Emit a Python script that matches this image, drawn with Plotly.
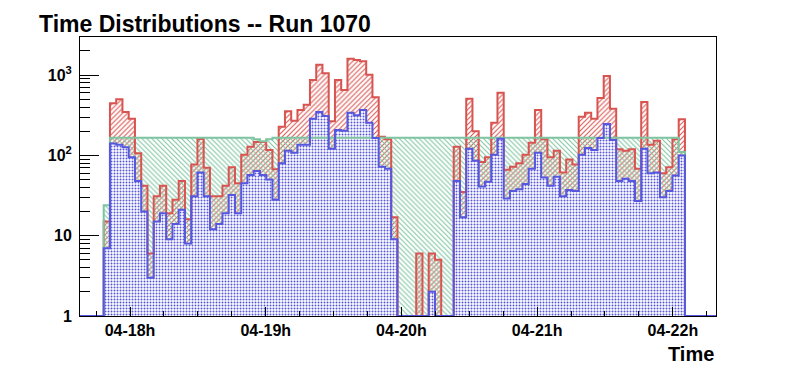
import numpy as np
import pandas as pd
import plotly.graph_objects as go

# ---- data (counts per time bin) ----
run_day = "2000-01-04"
first_edge = "2000-01-04 17:48:22"
bin_seconds = 165.8
axis_start = "2000-01-04 17:37:53"
axis_end = "2000-01-04 22:19:05"

red_counts = [15, 446, 499, 347, 286, 106, 42, 6, 31, 42, 19, 28, 48, 16, 77, 160,
              70, 31, 31, 42, 71, 45, 102, 128, 147, 147, 117, 67, 228, 354, 270, 367,
              428, 869, 1349, 1052, 266, 869, 652, 1600, 1541, 1486, 1012, 529, 171, 159,
              17, 0, 0, 0, 6, 0, 6, 5, 0, 0, 128, 35, 508, 200, 83, 95, 255, 604,
              66, 72, 80, 102, 144, 367, 159, 95, 114, 61, 89, 77, 303, 340, 286, 518,
              975, 382, 119, 114, 119, 68, 462, 136, 152, 60, 71, 159, 281]

green_counts = [24] + [166] * 23 + [159, 150, 159] + [166] * 65 + [110]

blue_counts = [7, 141, 136, 126, 95, 48, 20, 3, 15, 19, 9, 14, 21, 8, 31, 61,
               31, 12, 14, 19, 32, 19, 45, 57, 64, 57, 50, 28, 80, 114, 108, 136,
               136, 286, 347, 309, 121, 207, 203, 340, 316, 367, 255, 165, 72, 68,
               9, 0, 0, 0, 0, 0, 2, 0, 0, 0, 48, 17, 121, 86, 41, 47, 102, 161,
               29, 36, 38, 44, 68, 108, 53, 42, 54, 31, 37, 36, 102, 124, 117, 165,
               246, 155, 48, 51, 48, 27, 121, 60, 61, 30, 36, 56, 100]

tick_labels_y = ["1", "10", "10<sup>2</sup>", "10<sup>3</sup>"]
tick_vals_y = [1, 10, 100, 1000]

RED = "rgb(216,84,80)"
GREEN = "rgb(126,196,160)"
BLUE = "rgb(86,86,222)"

nb = len(red_counts)
t0 = pd.Timestamp(first_edge)
edges = [t0 + pd.Timedelta(seconds=bin_seconds * i) for i in range(nb + 1)]
centers = [t0 + pd.Timedelta(seconds=bin_seconds * (i + 0.5)) for i in range(nb)]
width_ms = bin_seconds * 1000.0
xl = pd.Timestamp(axis_start)
xr = pd.Timestamp(axis_end)

fig = go.Figure()


def add_hist(counts, color, shape, size, solidity, bg):
    vals = [c if c > 0 else None for c in counts]
    fig.add_trace(go.Bar(
        x=centers, y=vals, width=[width_ms] * nb,
        marker=dict(color=bg, line=dict(width=0),
                    pattern=dict(shape=shape, fgcolor=color, bgcolor=bg,
                                 size=size, solidity=solidity, fillmode="replace")),
        hoverinfo="skip", showlegend=False))


def add_outline(counts, color):
    ys = [c if c > 0 else 1 for c in counts]
    xs = [xl] + edges[:-1] + [edges[-1], xr]
    yy = [1] + ys + [1, 1]
    fig.add_trace(go.Scatter(x=xs, y=yy, mode="lines",
                             line=dict(color=color, width=2, shape="hv"),
                             hoverinfo="skip", showlegend=False))


add_hist(red_counts, RED, "/", 3.5, 0.3, "rgba(255,255,255,0)")
add_hist(green_counts, GREEN, "\\", 3.5, 0.3, "rgba(255,255,255,0)")
add_hist(blue_counts, BLUE, ".", 3, 0.35, "white")
add_outline(red_counts, RED)
add_outline(green_counts, GREEN)
add_outline(blue_counts, BLUE)

fnt = dict(family="Liberation Sans, Arial, sans-serif", color="black")

# page body adds an 8px offset; margins compensate so the frame sits at 80..716 x 37..316
fig.update_layout(
    width=796, height=372,
    margin=dict(l=72, r=88, t=29, b=64),
    paper_bgcolor="white", plot_bgcolor="white",
    barmode="overlay", bargap=0,
    xaxis=dict(type="date", range=[xl, xr],
               tickformat="%d-%Hh", dtick=3600000,
               tick0=run_day + " 18:00",
               ticks="inside", ticklen=9, tickcolor="black", tickwidth=1,
               minor=dict(ticks="inside", ticklen=5, dtick=900000,
                          tick0=run_day + " 18:00", tickcolor="black", showgrid=False),
               tickfont=dict(size=16, weight="bold", **fnt),
               showgrid=False, zeroline=False,
               showline=True, linecolor="black", linewidth=1, mirror=True),
    yaxis=dict(type="log", range=[0, 3.474],
               tickmode="array", tickvals=tick_vals_y, ticktext=tick_labels_y,
               ticks="inside", ticklen=19, tickcolor="black", tickwidth=1,
               minor=dict(ticks="inside", ticklen=10, dtick="D1",
                          tickcolor="black", showgrid=False),
               tickfont=dict(size=16, weight="bold", **fnt),
               ticklabelstandoff=4,
               showgrid=False, zeroline=False,
               showline=True, linecolor="black", linewidth=1, mirror=True),
    annotations=[
        dict(text="<b>Time Distributions -- Run 1070</b>",
             x=(37 - 80) / 636, xref="paper", xanchor="left",
             y=(316 - 9) / 279, yref="paper", yanchor="top",
             showarrow=False, font=dict(size=23, **fnt)),
        dict(text="<b>Time</b>", x=1, xref="paper", xanchor="right",
             y=(316 - 354) / 279, yref="paper", yanchor="middle",
             showarrow=False, font=dict(size=20, **fnt)),
    ],
)

fig.write_html("out.html")
